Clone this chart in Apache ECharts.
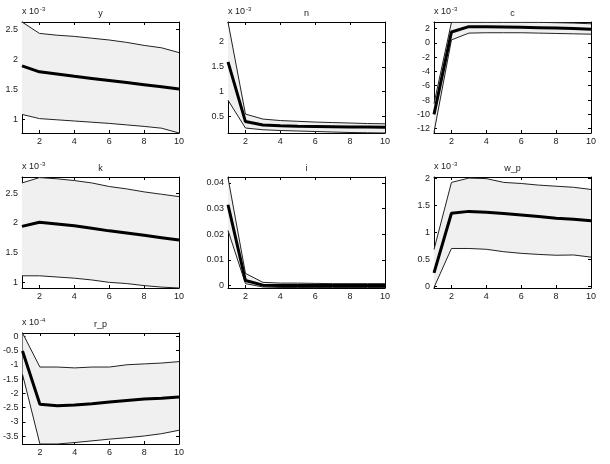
<!DOCTYPE html>
<html>
<head>
<meta charset="utf-8">
<script src="https://cdn.jsdelivr.net/npm/echarts@6/dist/echarts.min.js"></script>
<style>
  html, body { margin: 0; padding: 0; background: #fff; }
  #main { width: 610px; height: 464px; }
</style>
</head>
<body>
<div id="main"></div>
<script>
// horizon 1..10
const steps = [1, 2, 3, 4, 5, 6, 7, 8, 9, 10]
const xTicks = [2, 4, 6, 8, 10]

// y  (x 10^-3)
const yMed = [1.89, 1.79, 1.755, 1.715, 1.68, 1.645, 1.61, 1.575, 1.54, 1.505]
const yUp = [2.62, 2.43, 2.40, 2.38, 2.35, 2.32, 2.28, 2.23, 2.19, 2.11]
const yLo = [1.08, 1.01, 0.99, 0.97, 0.95, 0.93, 0.905, 0.88, 0.85, 0.77]
const yTicks = [1, 1.5, 2, 2.5]

// n  (x 10^-3)
const nMed = [1.6, 0.40, 0.33, 0.315, 0.305, 0.30, 0.295, 0.29, 0.29, 0.285]
const nUp = [2.4, 0.55, 0.45, 0.42, 0.405, 0.39, 0.38, 0.37, 0.36, 0.355]
const nLo = [0.83, 0.27, 0.235, 0.22, 0.21, 0.20, 0.19, 0.18, 0.175, 0.17]
const nTicks = [0.5, 1, 1.5, 2]

// c  (x 10^-3)
const cMed = [-10, 1.5, 2.25, 2.25, 2.2, 2.15, 2.1, 2.05, 2.0, 1.9]
const cUp = [-8.5, 2.85, 2.85, 2.85, 2.85, 2.85, 2.85, 2.8, 2.75, 2.65]
const cLo = [-12.5, 0.4, 1.35, 1.4, 1.4, 1.4, 1.35, 1.3, 1.25, 1.2]
const cTicks = [-12, -10, -8, -6, -4, -2, 0, 2]

// k  (x 10^-3)
const kMed = [1.94, 2.01, 1.98, 1.95, 1.91, 1.865, 1.83, 1.79, 1.75, 1.71]
const kUp = [2.67, 2.76, 2.74, 2.71, 2.67, 2.61, 2.57, 2.52, 2.48, 2.44]
const kLo = [1.11, 1.11, 1.09, 1.07, 1.04, 1.0, 0.98, 0.945, 0.92, 0.905]
const kTicks = [1, 1.5, 2, 2.5]

// i
const iMed = [0.0315, 0.002, 0.0002, 0.0001, 0.0001, 0.0001, 0.0001, 0.0001, 0.0001, 0.0001]
const iUp = [0.042, 0.0048, 0.0013, 0.0010, 0.0010, 0.0009, 0.0008, 0.0008, 0.0008, 0.0008]
const iLo = [0.0215, 0.0008, -0.0005, -0.0007, -0.0007, -0.0007, -0.0007, -0.0007, -0.0007, -0.0007]
const iTicks = [0, 0.01, 0.02, 0.03, 0.04]

// w_p  (x 10^-3)
const wMed = [0.25, 1.35, 1.385, 1.37, 1.345, 1.32, 1.29, 1.26, 1.24, 1.21]
const wUp = [0.68, 1.92, 2.0, 1.99, 1.92, 1.9, 1.87, 1.85, 1.83, 1.79]
const wLo = [-0.02, 0.70, 0.70, 0.685, 0.64, 0.61, 0.59, 0.575, 0.58, 0.54]
const wTicks = [0, 0.5, 1, 1.5, 2]

// r_p  (x 10^-4)
const rMed = [-0.52, -2.38, -2.43, -2.41, -2.36, -2.3, -2.25, -2.2, -2.17, -2.13]
const rUp = [0.11, -1.08, -1.08, -1.11, -1.08, -1.08, -1.0, -0.97, -0.94, -0.89]
const rLo = [-1.33, -3.77, -3.77, -3.72, -3.66, -3.6, -3.55, -3.49, -3.41, -3.29]
const rTicks = [-3.5, -3, -2.5, -2, -1.5, -1, -0.5, 0]

const panels = [
  { name: 'y', exp: '-3', med: yMed, up: yUp, lo: yLo, ticks: yTicks, min: 0.77, max: 2.62, col: 0, row: 0 },
  { name: 'n', exp: '-3', med: nMed, up: nUp, lo: nLo, ticks: nTicks, min: 0.17, max: 2.4, col: 1, row: 0 },
  { name: 'c', exp: '-3', med: cMed, up: cUp, lo: cLo, ticks: cTicks, min: -12.6, max: 2.9, col: 2, row: 0 },
  { name: 'k', exp: '-3', med: kMed, up: kUp, lo: kLo, ticks: kTicks, min: 0.905, max: 2.77, col: 0, row: 1 },
  { name: 'i', exp: null, med: iMed, up: iUp, lo: iLo, ticks: iTicks, min: -0.0009, max: 0.0423, col: 1, row: 1 },
  { name: 'w_p', exp: '-3', med: wMed, up: wUp, lo: wLo, ticks: wTicks, min: -0.03, max: 2.02, col: 2, row: 1 },
  { name: 'r_p', exp: '-4', med: rMed, up: rUp, lo: rLo, ticks: rTicks, min: -3.77, max: 0.11, col: 0, row: 2 }
]

const colLeft = [22, 228, 434]
const rowTop = [22, 177, 333]
const boxW = 157
const boxH = 111
const font = 'Liberation Sans'

const zip = (a, b) => a.map((v, i) => [v, b[i]])

const grid = []
const xAxis = []
const yAxis = []
const series = []
const graphic = []

panels.forEach((p, k) => {
  const left = colLeft[p.col]
  const top = rowTop[p.row]
  grid.push({ left: left, top: top, width: boxW, height: boxH })

  const line = { show: true, onZero: false, lineStyle: { color: '#000', width: 1 } }
  const label = { color: '#222', fontSize: 9, fontFamily: font }
  xAxis.push({
    type: 'value', gridIndex: k, min: 1, max: 10, position: 'bottom',
    axisLine: line,
    axisTick: { inside: true, length: 3, lineStyle: { color: '#000' }, customValues: xTicks },
    axisLabel: Object.assign({ margin: 4, customValues: xTicks }, label),
    splitLine: { show: false }
  })
  xAxis.push({
    type: 'value', gridIndex: k, min: 1, max: 10, position: 'top',
    axisLine: line,
    axisTick: { inside: true, length: 3, lineStyle: { color: '#000' }, customValues: xTicks },
    axisLabel: { show: false },
    splitLine: { show: false }
  })
  yAxis.push({
    type: 'value', gridIndex: k, min: p.min, max: p.max, position: 'left',
    axisLine: line,
    axisTick: { inside: true, length: 3, lineStyle: { color: '#000' }, customValues: p.ticks },
    axisLabel: Object.assign({ margin: 4, customValues: p.ticks }, label),
    splitLine: { show: false }
  })
  yAxis.push({
    type: 'value', gridIndex: k, min: p.min, max: p.max, position: 'right',
    axisLine: line,
    axisTick: { inside: true, length: 3, lineStyle: { color: '#000' }, customValues: p.ticks },
    axisLabel: { show: false },
    splitLine: { show: false }
  })

  const ax = { xAxisIndex: 2 * k, yAxisIndex: 2 * k, silent: true, animation: false }
  // shaded band between lower and upper, drawn as one polygon
  series.push(Object.assign({
    type: 'custom', clip: true, z: 1,
    data: steps.map((s, i) => [s, p.lo[i], p.up[i]]),
    renderItem: (params, api) => {
      if (params.dataIndex !== 0) return
      const pts = []
      steps.forEach((s, i) => pts.push(api.coord([s, p.up[i]])))
      for (let i = steps.length - 1; i >= 0; i--) pts.push(api.coord([steps[i], p.lo[i]]))
      return { type: 'polygon', shape: { points: pts }, style: { fill: '#f0f0f0' } }
    }
  }, ax))
  series.push(Object.assign({
    type: 'line', symbol: 'none', z: 2, data: zip(steps, p.up), lineStyle: { color: '#222', width: 1 }
  }, ax))
  series.push(Object.assign({
    type: 'line', symbol: 'none', z: 2, data: zip(steps, p.lo), lineStyle: { color: '#222', width: 1 }
  }, ax))
  series.push(Object.assign({
    type: 'line', symbol: 'none', z: 3, data: zip(steps, p.med), lineStyle: { color: '#000', width: 3 }
  }, ax))

  graphic.push({
    type: 'text', x: left + boxW / 2, y: top - 4,
    style: { text: p.name, fill: '#222', font: '9px ' + font, textAlign: 'center', textVerticalAlign: 'bottom' }
  })
  if (p.exp) {
    graphic.push({
      type: 'text', x: left, y: top - 4,
      style: {
        text: '{a|x 10}{s|' + p.exp + '}', fill: '#222', textAlign: 'left', textVerticalAlign: 'bottom',
        rich: {
          a: { fontSize: 9, fontFamily: font, fill: '#222' },
          s: { fontSize: 6, fontFamily: font, fill: '#222', padding: [0, 0, 6, 1] }
        }
      }
    })
  }
})

const chart = echarts.init(document.getElementById('main'))
chart.setOption({
  animation: false,
  backgroundColor: '#fff',
  grid: grid,
  xAxis: xAxis,
  yAxis: yAxis,
  series: series,
  graphic: graphic
})
</script>
</body>
</html>
